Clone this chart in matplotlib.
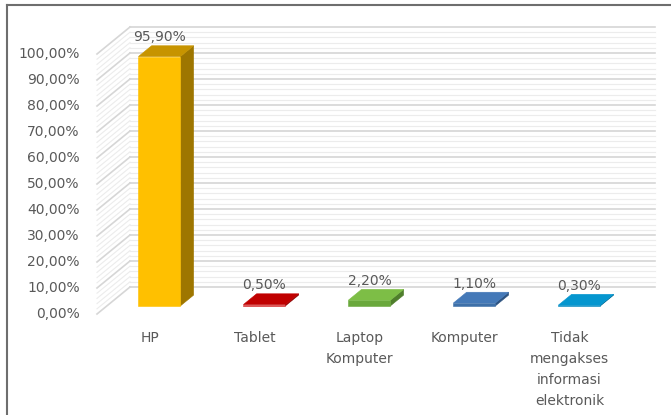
import numpy as np
import matplotlib.pyplot as plt
from matplotlib.patches import Polygon
from matplotlib.lines import Line2D

# data
categories = ['HP', 'Tablet', 'Laptop\nKomputer', 'Komputer',
              'Tidak\nmengakses\ninformasi\nelektronik']
values = [95.9, 0.5, 2.2, 1.1, 0.3]
yticks = np.arange(0, 101, 10)

front_col = ['#FFC000', '#D42A2A', '#6AA83C', '#3E70A8', '#0A8CC2']
top_col = ['#C79400', '#C00000', '#7DBE46', '#4479B8', '#0596CF']
side_col = ['#9E7600', '#8E0000', '#4F7E2C', '#2C5280', '#06688F']

txt_col = '#595959'

# oblique depth of the floor, in category / percent units
DX = 33 / 105
DY = 27 / 2.6
W = 0.2            # half bar width
T0, T1 = 0.3, 0.7  # bar depth inside the floor


def proj(x, v, t):
    return (x + t * DX, v + t * DY)


def fmt(v):
    return ('%.2f' % v).replace('.', ',') + '%'


fig = plt.figure(figsize=(6.71, 4.15), dpi=100)
ax = fig.add_axes([97 / 671, (415 - 314) / 415, 525 / 671, 260 / 415])
ax.set_xlim(-0.5, 4.5)
ax.set_ylim(0, 100)
ax.axis('off')

# back wall and side wall grid
for v in np.arange(0, 101, 2):
    major = v % 10 == 0
    c = '#D6D6D6' if major else '#ECECEC'
    lw = 1.2 if major else 0.8
    x0, y0 = proj(-0.5, v, 1)
    x1, y1 = proj(4.5, v, 1)
    ax.plot([x0, x1], [y0, y1], color=c, lw=lw, clip_on=False, zorder=1)
    xs, ys = proj(-0.5, v, 0)
    ax.plot([xs, x0], [ys, y0], color=c, lw=lw, clip_on=False, zorder=1)

# bars
for i, v in enumerate(values):
    front = [proj(i - W, 0, T0), proj(i + W, 0, T0),
             proj(i + W, v, T0), proj(i - W, v, T0)]
    side = [proj(i + W, 0, T0), proj(i + W, 0, T1),
            proj(i + W, v, T1), proj(i + W, v, T0)]
    top = [proj(i - W, v, T0), proj(i + W, v, T0),
           proj(i + W, v, T1), proj(i - W, v, T1)]
    for pts, col in ((side, side_col[i]), (front, front_col[i]), (top, top_col[i])):
        ax.add_patch(Polygon(pts, closed=True, facecolor=col, edgecolor=col,
                             lw=0.4, clip_on=False, zorder=3))
    lx, ly = proj(i, v, T1)
    ax.annotate(fmt(v), (proj(i, v, T0)[0], ly), xytext=(0, 6),
                textcoords='offset points', ha='center', va='center',
                fontsize=10, color=txt_col, zorder=5, annotation_clip=False)

# value axis labels
for t in yticks:
    ax.annotate(fmt(t), (-0.5, t), xytext=(-12.5, 0), textcoords='offset points',
                ha='right', va='center', fontsize=10, color=txt_col,
                annotation_clip=False)

# category labels
for i, name in enumerate(categories):
    ax.annotate(name, (i, 0), xytext=(0, -12.5), textcoords='offset points',
                ha='center', va='top', fontsize=10, color=txt_col,
                linespacing=1.63, annotation_clip=False)

# chart frame (top and left edges)
fig.add_artist(Line2D([7 / 671, 7 / 671], [0, 1 - 5 / 415],
                      transform=fig.transFigure, color='#6E6E6E', lw=1.5))
fig.add_artist(Line2D([7 / 671, 1], [1 - 5 / 415, 1 - 5 / 415],
                      transform=fig.transFigure, color='#6E6E6E', lw=1.5))

fig.savefig('out.png', dpi=100)
